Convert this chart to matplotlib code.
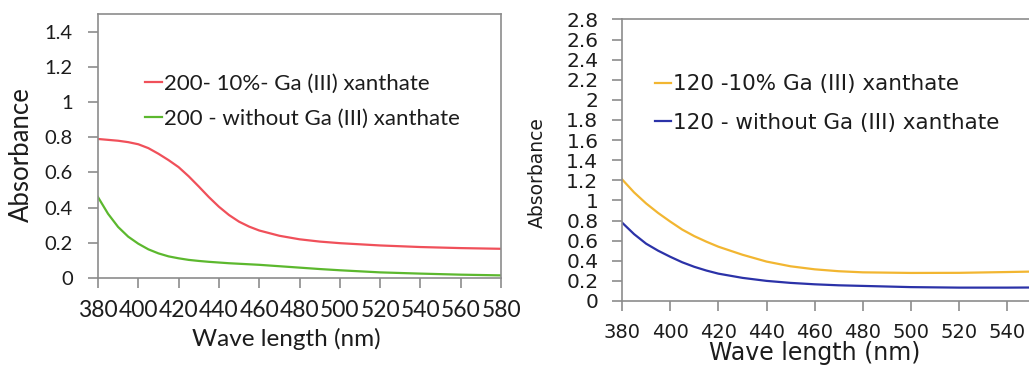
"""UV-vis absorbance spectra, two panels (200 and 120 samples)."""

import matplotlib

matplotlib.use("Agg")
import matplotlib.pyplot as plt

# left panel: 200 samples
wl_200 = [380, 385, 390, 395, 400, 405, 410, 415, 420, 425, 430, 435, 440, 445,
          450, 455, 460, 470, 480, 490, 500, 520, 540, 560, 580]
abs_200_ga = [0.790, 0.785, 0.780, 0.772, 0.760, 0.738, 0.706, 0.670, 0.630, 0.578,
              0.520, 0.460, 0.405, 0.358, 0.320, 0.292, 0.270, 0.240, 0.220, 0.207,
              0.198, 0.185, 0.176, 0.170, 0.166]
abs_200_none = [0.460, 0.365, 0.290, 0.235, 0.195, 0.163, 0.140, 0.123, 0.112, 0.103,
                0.097, 0.092, 0.088, 0.084, 0.081, 0.078, 0.075, 0.067, 0.059, 0.051,
                0.044, 0.032, 0.025, 0.019, 0.015]

# right panel: 120 samples
wl_120 = [380, 385, 390, 395, 400, 405, 410, 415, 420, 430, 440, 450, 460, 470,
          480, 500, 520, 540, 549]
abs_120_ga = [1.210, 1.080, 0.970, 0.875, 0.790, 0.710, 0.645, 0.590, 0.540, 0.460,
              0.392, 0.345, 0.315, 0.296, 0.285, 0.279, 0.280, 0.288, 0.292]
abs_120_none = [0.780, 0.665, 0.570, 0.500, 0.440, 0.385, 0.340, 0.303, 0.272, 0.230,
                0.200, 0.180, 0.166, 0.156, 0.150, 0.138, 0.133, 0.133, 0.134]

labels_200 = ["200- 10%- Ga (III) xanthate", "200 - without Ga (III) xanthate"]
labels_120 = ["120 -10% Ga (III) xanthate", "120 - without Ga (III) xanthate"]

GRAY = "#8c8c8c"
TXT = "#1c1c1c"


def style_axes(ax):
    for side in ("top", "right", "left", "bottom"):
        ax.spines[side].set_color(GRAY)
        ax.spines[side].set_linewidth(1.2)
    ax.tick_params(colors=GRAY, labelcolor=TXT, width=1.2, length=7, direction="out")


fig = plt.figure(figsize=(10.29, 3.66), dpi=100)

# ---- left panel ----
ax1 = fig.add_axes([0.0952, 0.2404, 0.3918, 0.7213])
ax1.plot(wl_200, abs_200_ga, color="#f0505a", lw=1.6, label=labels_200[0])
ax1.plot(wl_200, abs_200_none, color="#5cb82e", lw=1.6, label=labels_200[1])
ax1.set_xlim(380, 580)
ax1.set_ylim(0, 1.5)
ax1.set_xticks(range(380, 581, 20))
ax1.set_yticks([0, 0.2, 0.4, 0.6, 0.8, 1.0, 1.2, 1.4])
ax1.set_yticklabels(["0", "0.2", "0.4", "0.6", "0.8", "1", "1.2", "1.4"])
style_axes(ax1)
for lab in ax1.get_xticklabels():
    lab.set_fontfamily("Lato")
    lab.set_fontsize(16.5)
for lab in ax1.get_yticklabels():
    lab.set_fontfamily("Lato")
    lab.set_fontsize(14.5)
ax1.tick_params(axis="x", pad=9)
ax1.tick_params(axis="y", pad=11)
ax1.set_xlabel("Wave length (nm)", family="Lato", fontsize=17.5, color=TXT)
ax1.set_ylabel("Absorbance", family="Lato", fontsize=18.5, color=TXT)
ax1.xaxis.set_label_coords(0.466, -0.189)
ax1.yaxis.set_label_coords(-0.159, 0.466)
leg1 = ax1.legend(loc="upper left", bbox_to_anchor=(0.117, 0.773), frameon=False,
                  handlelength=0.75, handletextpad=0.1, borderpad=0, borderaxespad=0,
                  labelspacing=0.67, prop={"family": "Lato", "size": 16})
for t in leg1.get_texts():
    t.set_color(TXT)

# ---- right panel ----
ax2 = fig.add_axes([0.6045, 0.1776, 0.3955, 0.7694])
ax2.plot(wl_120, abs_120_ga, color="#f2b631", lw=1.6, label=labels_120[0])
ax2.plot(wl_120, abs_120_none, color="#2b32a8", lw=1.6, label=labels_120[1])
ax2.set_xlim(380, 549)
ax2.set_ylim(0, 2.8)
ax2.set_xticks(range(380, 541, 20))
yt = [round(0.2 * i, 1) for i in range(15)]
ax2.set_yticks(yt)
ax2.set_yticklabels([("%g" % v) for v in yt])
style_axes(ax2)
ax2.spines["right"].set_visible(False)
ax2.tick_params(axis="x", labelsize=14, pad=9)
ax2.tick_params(axis="y", labelsize=14.5, pad=10)
ax2.set_xlabel("Wave length (nm)", fontsize=17, color=TXT)
ax2.set_ylabel("Absorbance", fontsize=13.5, color=TXT)
ax2.xaxis.set_label_coords(0.474, -0.143)
ax2.yaxis.set_label_coords(-0.184, 0.457)
leg2 = ax2.legend(loc="upper left", bbox_to_anchor=(0.081, 0.805), frameon=False,
                  handlelength=0.75, handletextpad=0.1, borderpad=0, borderaxespad=0,
                  labelspacing=0.85, prop={"size": 15.5})
for t in leg2.get_texts():
    t.set_color(TXT)

fig.savefig("out.png", dpi=100)
